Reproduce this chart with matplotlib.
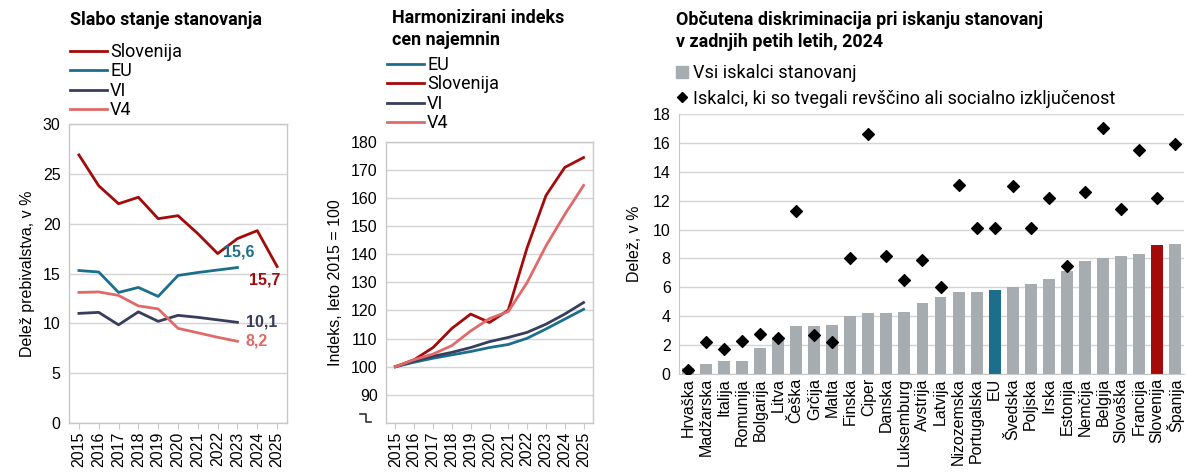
import matplotlib
matplotlib.use("Agg")
import matplotlib.pyplot as plt
from matplotlib import font_manager
from matplotlib.lines import Line2D
import numpy as np

# ---------------- data ----------------
years = ["2015", "2016", "2017", "2018", "2019", "2020", "2021", "2022", "2023", "2024", "2025"]

# Panel 1: Slabo stanje stanovanja (% of population)
p1_slovenija = [26.9, 23.8, 22.0, 22.65, 20.5, 20.8, 19.0, 17.0, 18.5, 19.3, 15.7]
p1_eu = [15.3, 15.15, 13.1, 13.6, 12.7, 14.8, 15.1, 15.35, 15.6]
p1_vi = [11.0, 11.1, 9.85, 11.15, 10.2, 10.8, 10.6, 10.35, 10.1]
p1_v4 = [13.1, 13.15, 12.8, 11.75, 11.45, 9.5, 9.05, 8.6, 8.2]

# Panel 2: Harmonizirani indeks cen najemnin (2015 = 100)
p2_eu = [100, 101.6, 103.0, 104.2, 105.4, 106.8, 107.9, 110.1, 113.4, 116.9, 120.4]
p2_slovenija = [100, 102.5, 106.8, 113.6, 118.7, 115.7, 120.1, 142.3, 160.8, 170.8, 174.3]
p2_vi = [100, 102.0, 103.7, 105.1, 106.8, 108.9, 110.4, 112.2, 115.1, 118.7, 122.8]
p2_v4 = [100, 102.5, 104.5, 107.5, 112.7, 117.1, 119.6, 129.9, 142.9, 154.1, 164.4]

# Panel 3: Občutena diskriminacija (2024)
countries = ["Hrvaška", "Madžarska", "Italija", "Romunija", "Bolgarija", "Litva", "Češka",
             "Grčija", "Malta", "Finska", "Ciper", "Danska", "Luksemburg", "Avstrija",
             "Latvija", "Nizozemska", "Portugalska", "EU", "Švedska", "Poljska", "Irska",
             "Estonija", "Nemčija", "Belgija", "Slovaška", "Francija", "Slovenija", "Španija"]
vsi_iskalci = [0.4, 0.7, 0.9, 0.9, 1.8, 2.5, 3.3, 3.3, 3.4, 4.0, 4.2, 4.2, 4.3, 4.9,
               5.3, 5.7, 5.7, 5.8, 6.0, 6.2, 6.6, 7.1, 7.8, 8.0, 8.2, 8.3, 8.9, 9.0]
revscina = [0.3, 2.2, 1.7, 2.3, 2.8, 2.5, 11.3, 2.7, 2.2, 8.0, 16.6, 8.2, 6.5, 7.9,
            6.0, 13.1, 10.1, 10.1, 13.0, 10.1, 12.2, 7.5, 12.6, 17.0, 11.4, 15.5, 12.2, 15.9]

# ---------------- style ----------------
C_SLO = "#a50a0a"
C_EU = "#1b6f8c"
C_VI = "#363e5c"
C_V4 = "#e06a6a"
C_BAR = "#a7acb1"
C_GRID = "#d4d4d4"
C_SPINE = "#c8c8c8"

avail = {f.name for f in font_manager.fontManager.ttflist}
narrow = "Liberation Sans Narrow" if "Liberation Sans Narrow" in avail else "Roboto"
plt.rcParams["font.family"] = ["Liberation Sans", "DejaVu Sans"]

W, H = 1186, 476
fig = plt.figure(figsize=(W / 100, H / 100), dpi=100)


def fx(px):
    return px / W


def fy(py):
    return 1 - py / H


TICK_FONT = 11.5
LEG_FONT = 13
TITLE_FONT = 12.9
NARROW = [narrow, "DejaVu Sans"]


def style_line_axes(ax):
    for s in ax.spines.values():
        s.set_color(C_SPINE)
        s.set_linewidth(1.0)
    ax.grid(axis="y", color=C_GRID, linewidth=1.0)
    ax.set_axisbelow(True)
    ax.tick_params(axis="y", length=0, labelsize=TICK_FONT, pad=6)
    ax.tick_params(axis="x", length=4, color=C_SPINE, labelsize=TICK_FONT, rotation=90, pad=2)


leg_kw = dict(loc="upper left", bbox_transform=fig.transFigure, frameon=False,
              handlelength=2.05, handletextpad=0.17, labelspacing=0.08,
              borderpad=0, borderaxespad=0, prop={"family": NARROW, "size": LEG_FONT})

# ---------------- panel 1 ----------------
ax1 = fig.add_axes([fx(69), fy(423), fx(287 - 69), (423 - 124) / H])
x = np.arange(len(years))
ax1.plot(x, p1_slovenija, color=C_SLO, lw=2, label="Slovenija")
ax1.plot(x[:len(p1_eu)], p1_eu, color=C_EU, lw=2, label="EU")
ax1.plot(x[:len(p1_vi)], p1_vi, color=C_VI, lw=2, label="VI")
ax1.plot(x[:len(p1_v4)], p1_v4, color=C_V4, lw=2, label="V4")
ax1.set_xlim(-0.5, len(years) - 0.5)
ax1.set_ylim(0, 30)
ax1.set_yticks(np.arange(0, 31, 5))
ax1.set_xticks(x)
ax1.set_xticklabels(years)
style_line_axes(ax1)
ax1.set_ylabel("Delež prebivalstva, v %", fontsize=TICK_FONT, labelpad=6)

lab_kw = dict(textcoords="offset points", fontsize=11.5, fontweight="bold")
ax1.annotate("15,6", (len(p1_eu) - 1, p1_eu[-1]), xytext=(1, 6), ha="center", va="bottom",
             color=C_EU, **lab_kw)
ax1.annotate("15,7", (len(years) - 1, p1_slovenija[-1]), xytext=(-9, -4), ha="center", va="top",
             color=C_SLO, **lab_kw)
ax1.annotate("10,1", (len(p1_vi) - 1, p1_vi[-1]), xytext=(6, 0), ha="left", va="center",
             color=C_VI, **lab_kw)
ax1.annotate("8,2", (len(p1_v4) - 1, p1_v4[-1]), xytext=(6, 0), ha="left", va="center",
             color=C_V4, **lab_kw)

fig.text(fx(70), fy(20), "Slabo stanje stanovanja", fontsize=TITLE_FONT, fontweight="bold",
         family=NARROW, ha="left", va="center")
ax1.legend(bbox_to_anchor=(fx(70), fy(43)), **leg_kw)

# ---------------- panel 2 ----------------
ax2 = fig.add_axes([fx(386), fy(423), fx(593 - 386), (423 - 141.5) / H])
ax2.plot(x, p2_eu, color=C_EU, lw=2, label="EU")
ax2.plot(x, p2_slovenija, color=C_SLO, lw=2, label="Slovenija")
ax2.plot(x, p2_vi, color=C_VI, lw=2, label="VI")
ax2.plot(x, p2_v4, color=C_V4, lw=2, label="V4")
ax2.set_xlim(-0.5, len(years) - 0.5)
ax2.set_ylim(80, 180)
ax2.set_yticks(np.arange(80, 181, 10))
ax2.set_yticklabels([""] + [str(v) for v in range(90, 181, 10)])
ax2.set_xticks(x)
ax2.set_xticklabels(years)
style_line_axes(ax2)
ax2.set_ylabel("Indeks, leto 2015 = 100", fontsize=TICK_FONT, labelpad=6)
# axis-break symbol
brk = Line2D([fx(360), fx(366), fx(366), fx(371)], [fy(414), fy(414), fy(422), fy(422)],
             transform=fig.transFigure, color="#333333", lw=1.2)
fig.add_artist(brk)

fig.text(fx(392), fy(29), "Harmonizirani indeks\ncen najemnin", fontsize=TITLE_FONT,
         fontweight="bold", family=NARROW, ha="left", va="center", linespacing=1.35)
ax2.legend(bbox_to_anchor=(fx(387), fy(56)), **leg_kw)

# ---------------- panel 3 ----------------
ax3 = fig.add_axes([fx(679), fy(374), fx(1184 - 679), (374 - 114) / H])
xc = np.arange(len(countries))
bar_colors = [C_SLO if c == "Slovenija" else C_EU if c == "EU" else C_BAR for c in countries]
ax3.bar(xc, vsi_iskalci, width=0.66, color=bar_colors, zorder=2)
ax3.scatter(xc, revscina, marker="D", s=36, color="black", zorder=3)
ax3.set_xlim(-0.5, len(countries) - 0.5)
ax3.set_ylim(0, 18)
ax3.set_yticks(np.arange(0, 19, 2))
ax3.set_xticks(xc)
ax3.set_xticklabels(countries, rotation=90)
for s in ["top", "right"]:
    ax3.spines[s].set_visible(False)
for s in ["left", "bottom"]:
    ax3.spines[s].set_color(C_SPINE)
ax3.grid(axis="y", color=C_GRID, linewidth=1.0, zorder=0)
ax3.set_axisbelow(True)
ax3.tick_params(axis="y", length=0, labelsize=TICK_FONT, pad=6)
ax3.tick_params(axis="x", length=0, labelsize=TICK_FONT, pad=3)
ax3.set_ylabel("Delež, v %", fontsize=TICK_FONT, labelpad=8)

fig.text(fx(676), fy(31), "Občutena diskriminacija pri iskanju stanovanj\nv zadnjih petih letih, 2024",
         fontsize=TITLE_FONT, fontweight="bold", family=NARROW,
         ha="left", va="center", linespacing=1.35)
h_bar = Line2D([], [], marker="s", linestyle="none", markersize=8, color=C_BAR)
h_dia = Line2D([], [], marker="D", linestyle="none", markersize=5, color="black")
leg3_kw = dict(leg_kw)
leg3_kw.update(handlelength=0.8, handletextpad=0.18, labelspacing=0.42)
ax3.legend([h_bar, h_dia], ["Vsi iskalci stanovanj",
                            "Iskalci, ki so tvegali revščino ali socialno izključenost"],
           bbox_to_anchor=(fx(675), fy(64)), **leg3_kw)

fig.savefig("out.png", dpi=100)
